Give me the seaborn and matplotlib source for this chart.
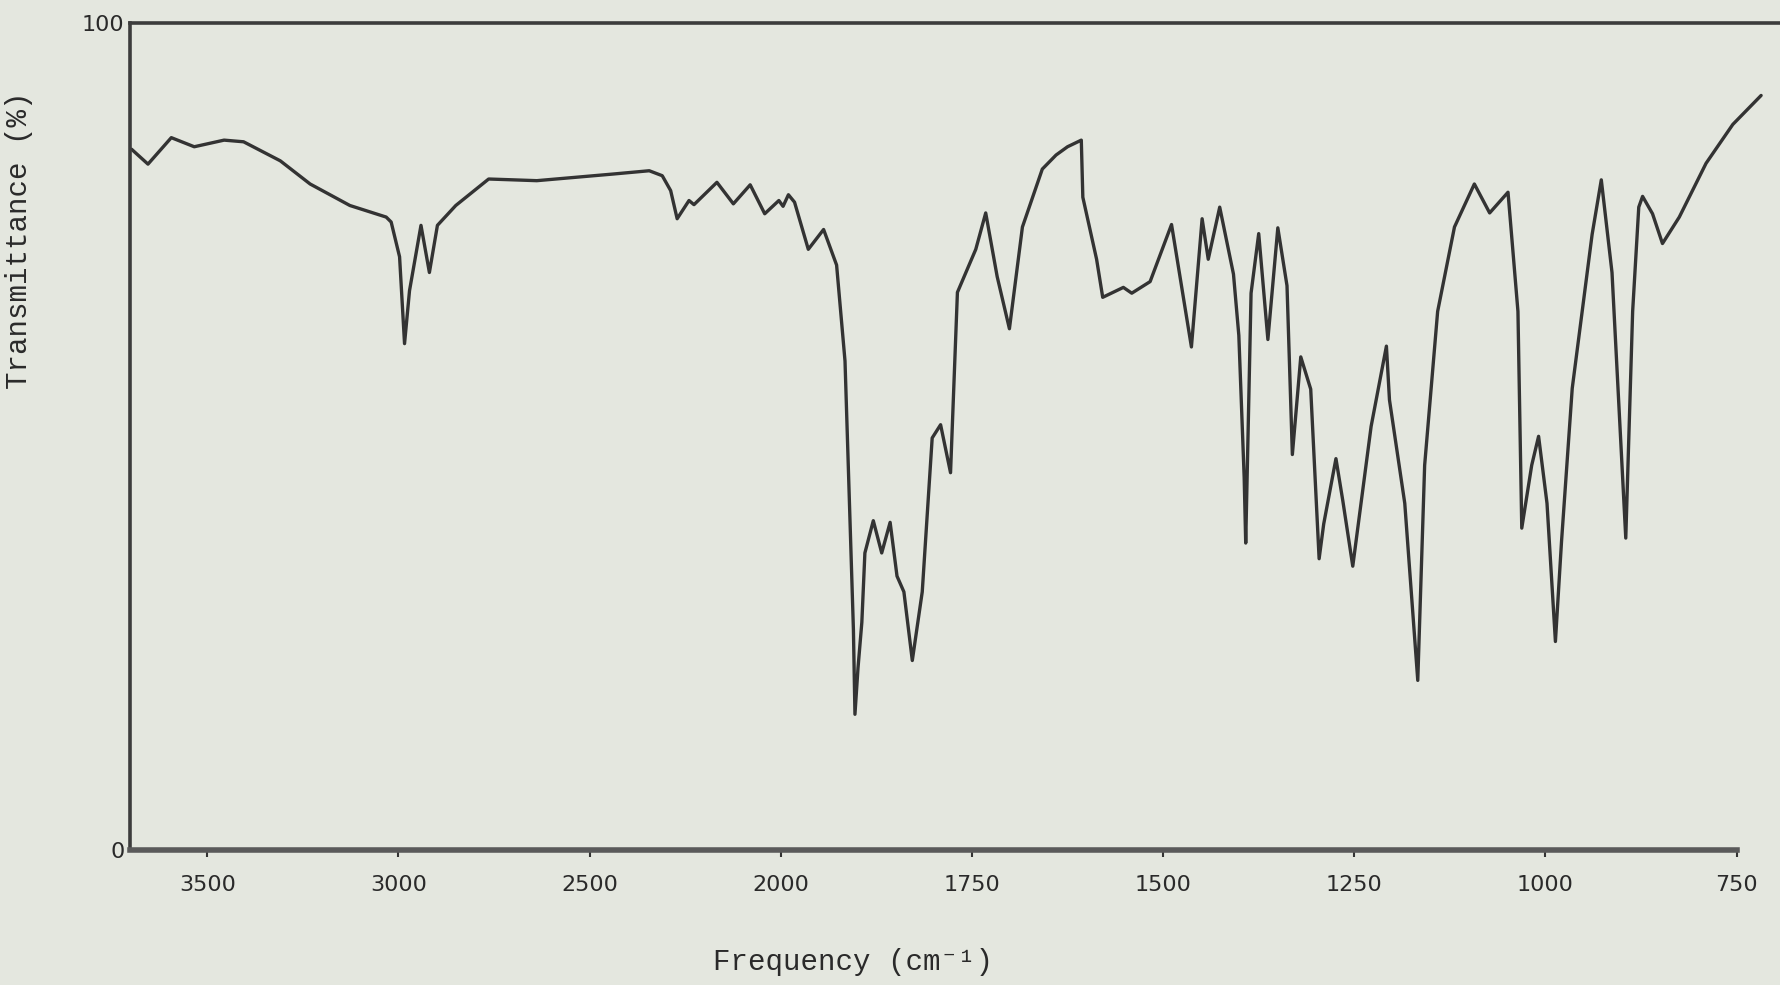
import numpy as np
import pandas as pd
import matplotlib
matplotlib.use("Agg")
import matplotlib.pyplot as plt
import seaborn as sns

# wavenumber (cm-1) and % transmittance
wavenumber = [3698, 3655, 3594, 3534, 3456, 3405, 3309, 3231, 3127, 3032,
              3019, 2997, 2984, 2971, 2941, 2919, 2898, 2850, 2764, 2700,
              2638, 2439, 2344, 2310, 2288, 2271, 2240, 2227, 2167, 2124,
              2080, 2042, 2005, 1997, 1990, 1982, 1964, 1944, 1927, 1916,
              1905, 1903, 1899, 1894, 1890, 1879, 1868, 1857, 1848, 1839,
              1828, 1815, 1802, 1791, 1778, 1769, 1745, 1732, 1717, 1701,
              1684, 1658, 1640, 1625, 1607, 1605, 1587, 1579, 1552, 1541,
              1517, 1489, 1463, 1449, 1441, 1426, 1408, 1401, 1394, 1392,
              1389, 1385, 1375, 1363, 1350, 1338, 1331, 1320, 1307, 1296,
              1290, 1274, 1265, 1252, 1228, 1208, 1204, 1184, 1167, 1158,
              1141, 1119, 1093, 1073, 1049, 1036, 1031, 1018, 1009, 998,
              987, 979, 965, 939, 927, 913, 895, 886, 878, 873,
              860, 847, 825, 790, 755, 718]
transmittance = [84.7, 82.9, 86.1, 85.0, 85.8, 85.6, 83.3, 80.5, 77.9, 76.5,
                 75.9, 71.7, 61.2, 67.6, 75.5, 69.8, 75.5, 77.9, 81.1, 81.0,
                 80.9, 81.7, 82.1, 81.5, 79.7, 76.3, 78.5, 78.0, 80.7, 78.1,
                 80.4, 76.9, 78.5, 77.8, 79.2, 78.3, 72.6, 75.0, 70.7, 59.1,
                 26.6, 16.4, 22.0, 27.5, 35.9, 39.8, 35.9, 39.6, 33.1, 31.2,
                 22.9, 31.2, 49.8, 51.4, 45.6, 67.4, 72.6, 77.0, 69.3, 63.0,
                 75.3, 82.3, 84.0, 85.0, 85.8, 78.9, 71.4, 66.8, 68.0, 67.3,
                 68.7, 75.6, 60.8, 76.3, 71.4, 77.7, 69.6, 62.2, 45.0, 37.1,
                 50.0, 67.3, 74.5, 61.7, 75.2, 68.2, 47.8, 59.6, 55.7, 35.2,
                 39.4, 47.3, 42.2, 34.3, 51.2, 60.9, 54.4, 41.9, 20.5, 46.5,
                 65.1, 75.3, 80.5, 77.0, 79.5, 65.1, 38.9, 46.5, 50.0, 41.9,
                 25.2, 37.3, 55.8, 74.4, 81.0, 69.8, 37.7, 65.1, 77.7, 79.0,
                 76.9, 73.3, 76.5, 83.0, 87.7, 91.2]

tick_values = [3500, 3000, 2500, 2000, 1750, 1500, 1250, 1000, 750]
tick_labels = ["3500", "3000", "2500", "2000", "1750", "1500", "1250", "1000", "750"]

df = pd.DataFrame({"nu": wavenumber, "T": transmittance})

# chart paper doubles its scale below 2000 cm-1
def fwd(nu):
    nu = np.asarray(nu, dtype=float)
    return np.where(nu >= 2000, nu, 2 * nu - 2000)

def inv(v):
    v = np.asarray(v, dtype=float)
    return np.where(v >= 2000, v, (v + 2000) / 2)

paper = "#e4e7df"
ink = "#333333"
sns.set_theme(style="white", rc={"figure.facecolor": paper, "axes.facecolor": paper})

fig = plt.figure(figsize=(17.81, 9.85), dpi=100)
ax = fig.add_axes([0.0730, 0.1371, 0.9270, 0.8399])

sns.lineplot(data=df, x="nu", y="T", estimator=None, sort=False,
             color=ink, linewidth=2.4, ax=ax)

ax.set_xscale("function", functions=(fwd, inv))
ax.set_xlim(3702, 692)
ax.set_ylim(0, 100)

ax.set_xticks(tick_values)
ax.set_xticklabels(tick_labels)
ax.set_yticks([0, 100])
ax.set_yticklabels(["0", "100"])
ax.tick_params(axis="x", direction="out", length=5, width=1.5, color=ink,
               pad=13, labelsize=16, labelcolor="#2a2a2a", bottom=True)
ax.tick_params(axis="y", length=0, pad=4, labelsize=16, labelcolor="#2a2a2a")

for side in ["left", "top", "bottom"]:
    ax.spines[side].set_color("#3c3c3c")
ax.spines["left"].set_linewidth(2.6)
ax.spines["top"].set_linewidth(2.6)
ax.spines["bottom"].set_linewidth(4)
ax.spines["bottom"].set_color("#5a5a5a")
ax.spines["bottom"].set_bounds(3702, 750)
ax.spines["right"].set_visible(False)

mono = ["Liberation Mono", "DejaVu Sans Mono"]
ax.set_xlabel("Frequency (cm⁻¹)", fontsize=21, family=mono, color="#2a2a2a")
ax.set_ylabel("Transmittance (%)", fontsize=21, family=mono, color="#2a2a2a")
ax.xaxis.set_label_coords(0.438, -0.118)
ax.yaxis.set_label_coords(-0.059, 0.737)

fig.savefig("out.png", dpi=100, facecolor=paper)
